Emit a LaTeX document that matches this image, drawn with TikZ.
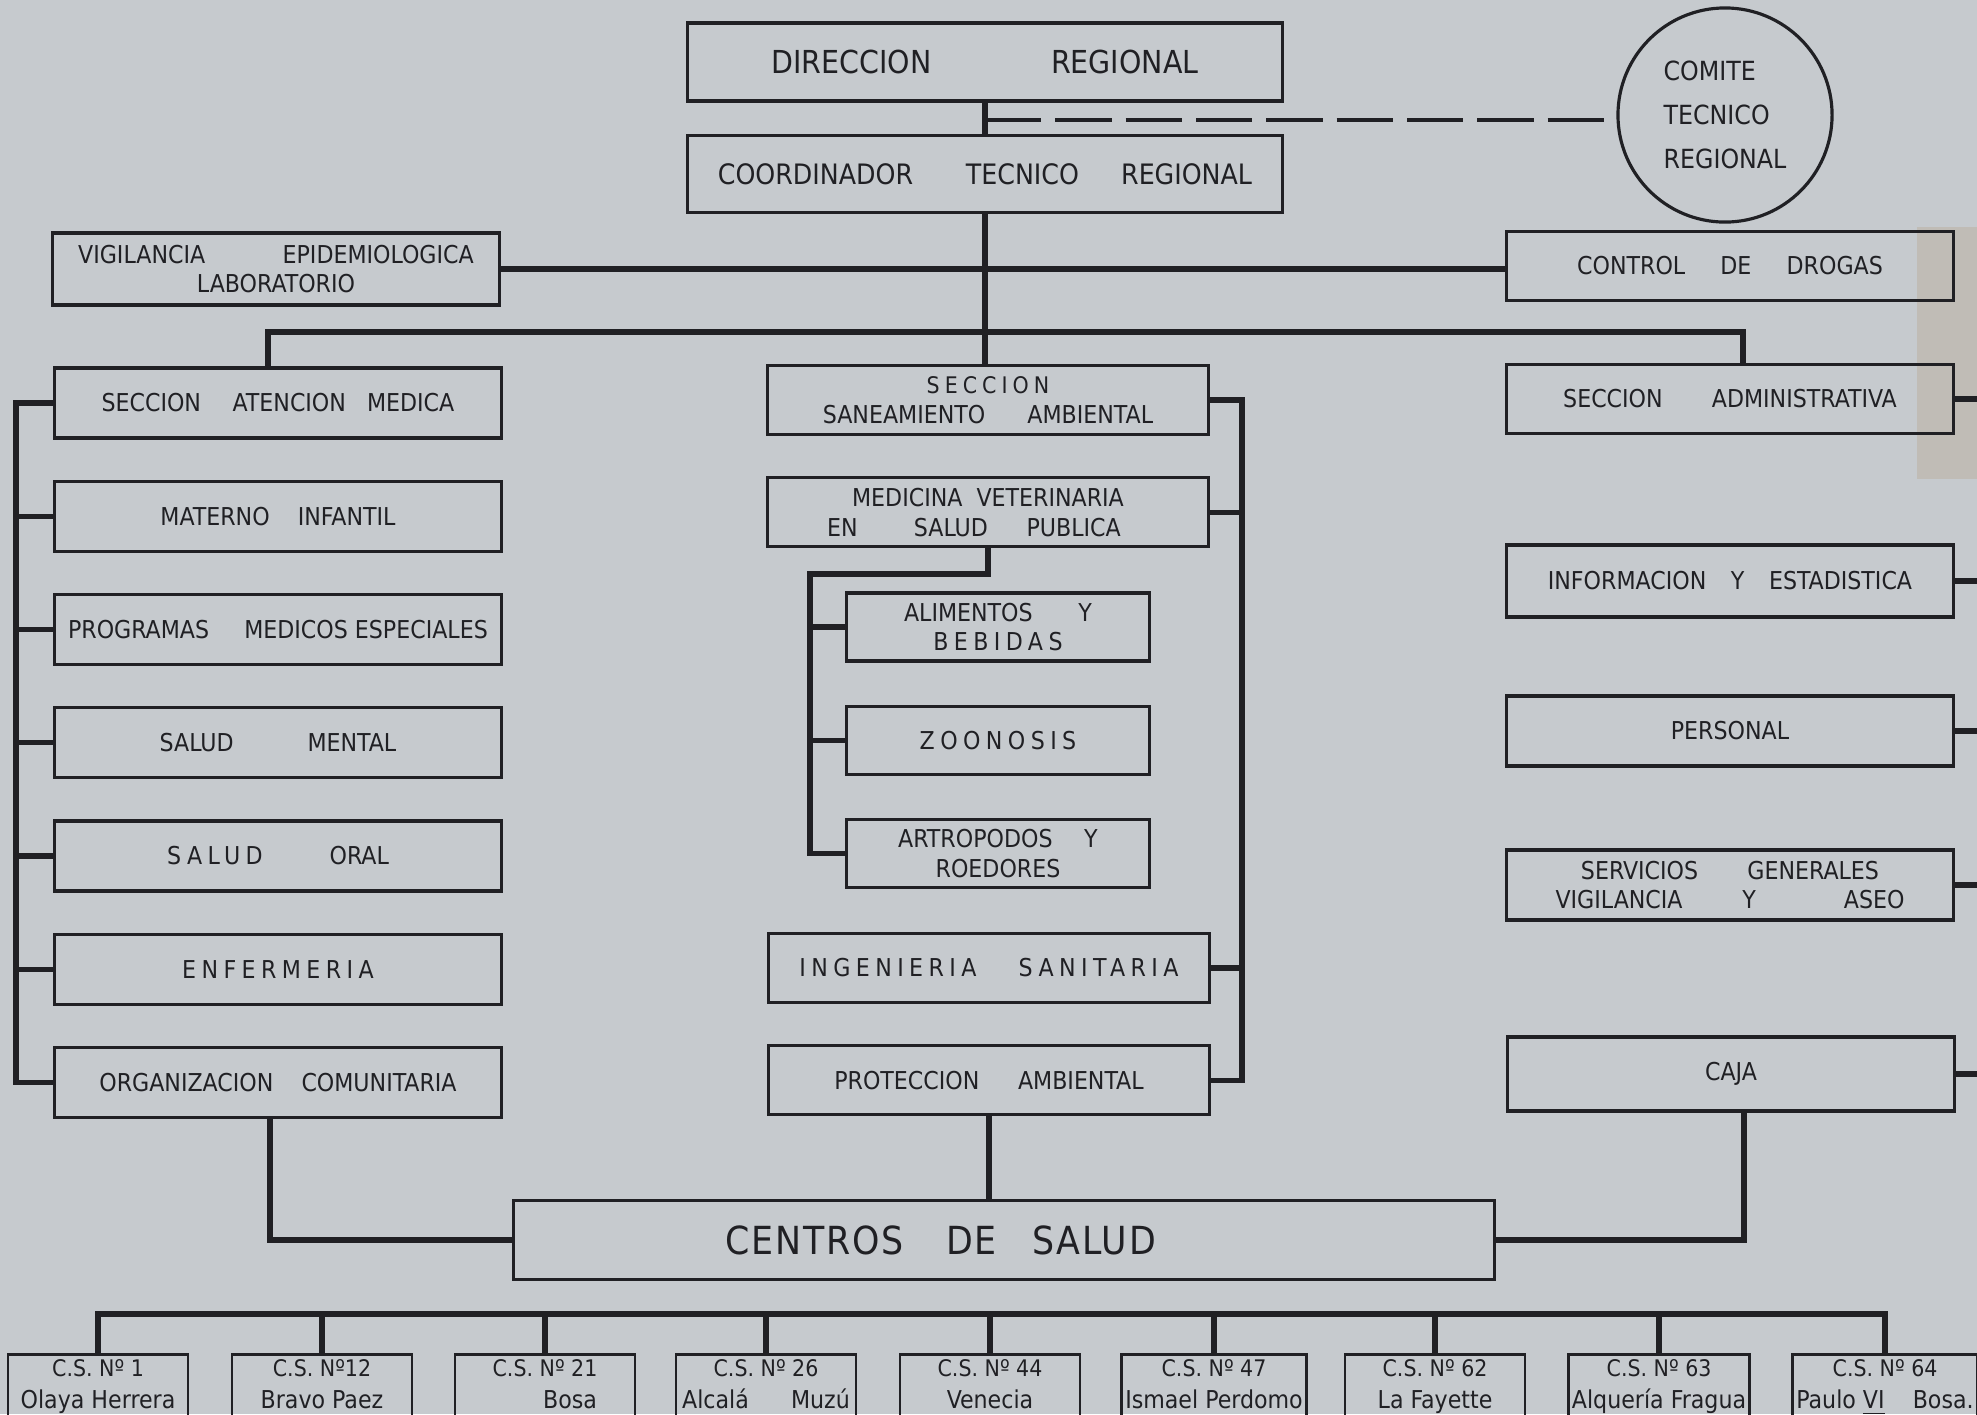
\documentclass[tikz,border=0pt]{standalone}
\usepackage{fontspec}
\setmainfont{DejaVu Sans Condensed}
\newfontfamily\wide[LetterSpace=22]{DejaVu Sans Condensed}
\newfontfamily\stencil[LetterSpace=5]{DejaVu Sans Condensed}
\usetikzlibrary{positioning}
\definecolor{paper}{RGB}{198,202,206}
\definecolor{ink}{RGB}{32,32,36}
\definecolor{tape}{RGB}{188,180,166}
\newcommand{\wgap}[1]{\hspace{#1pt}}

\begin{document}
\begin{tikzpicture}[
  x=0.01cm, y=-0.01cm,
  node distance=4mm,
  box/.style={draw=ink, line width=0.9pt, minimum width=4.46cm, minimum height=7mm,
              inner sep=1pt, align=center, text=ink, font=\fontsize{7}{8.5}\selectfont},
  subbox/.style={box, minimum width=3.03cm, minimum height=6.8mm},
  csbox/.style={draw=ink, line width=0.8pt, anchor=north, minimum width=1.8cm,
                inner xsep=1pt, inner ysep=1.5pt, align=center, text depth=6mm,
                text=ink, font=\fontsize{7}{9}\selectfont},
  link/.style={draw=ink, line width=1.5pt},
  dashline/.style={draw=ink, line width=1pt, dash pattern=on 16pt off 4pt}
]
\fill[paper] (0,0) rectangle (1977,1414);
\useasboundingbox (0,0) rectangle (1977,1414);
\clip (0,0) rectangle (1977,1414);
\fill[tape, opacity=0.6] (1917,227) rectangle (1977,479);

% direccion y comite
\node[box, minimum width=5.94cm, minimum height=7.8mm, font=\fontsize{9}{10}\selectfont] (dir) at (985,62) {DIRECCION\wgap{34}REGIONAL};
\node[box, minimum width=5.94cm, minimum height=7.7mm, font=\fontsize{8}{10}\selectfont] (coord) at (985,174) {COORDINADOR\wgap{15}TECNICO\wgap{12}REGIONAL};
\node[circle, draw=ink, line width=0.9pt, minimum size=2.14cm, align=left, text=ink,
      font=\fontsize{7.5}{12.5}\selectfont] (comite) at (1725,115) {COMITE\\TECNICO\\REGIONAL};
\node[box, minimum height=7.2mm] (vig) at (276,269) {VIGILANCIA\wgap{22}EPIDEMIOLOGICA\\LABORATORIO};
\node[box, minimum height=6.9mm] (drogas) at (1730,266) {CONTROL\wgap{10}DE\wgap{10}DROGAS};

% atencion medica
\node[box] (sam) at (278,403) {SECCION\wgap{9}ATENCION\wgap{6}MEDICA};
\node[box, below=of sam] (mi) {MATERNO\wgap{8}INFANTIL};
\node[box, below=of mi] (pme) {PROGRAMAS\wgap{10}MEDICOS ESPECIALES};
\node[box, below=of pme] (sm) {SALUD\wgap{21}MENTAL};
\node[box, below=of sm] (so) {{\wide SALUD}\wgap{19}ORAL};
\node[box, below=of so] (enf) {{\wide ENFERMERIA}};
\node[box, below=of enf] (oc) {ORGANIZACION\wgap{8}COMUNITARIA};

% saneamiento ambiental
\node[box, minimum width=4.41cm, minimum height=6.9mm] (san) at (988,400) {{\wide\fontsize{6.5}{8.5}\selectfont SECCION}\\SANEAMIENTO\wgap{12}AMBIENTAL};
\node[box, minimum width=4.41cm, minimum height=6.9mm, below=of san] (medvet) {MEDICINA\wgap{4}VETERINARIA\\EN\wgap{16}SALUD\wgap{11}PUBLICA\hspace*{8pt}};
\node[subbox] (alim) at (998,627) {ALIMENTOS\wgap{13}Y\\{\wide BEBIDAS}};
\node[subbox, below=4.2mm of alim] (zoo) {{\wide ZOONOSIS}};
\node[subbox, below=4.2mm of zoo] (art) {ARTROPODOS\wgap{9}Y\\ROEDORES};
\node[box, minimum width=4.40cm, minimum height=6.9mm] (ing) at (989,968) {{\wide INGENIERIA\wgap{12}SANITARIA}};
\node[box, minimum width=4.40cm, minimum height=6.9mm, below=of ing] (prot) {PROTECCION\wgap{11}AMBIENTAL};

% administrativa
\node[box, minimum height=6.9mm] (adm) at (1730,399) {SECCION\wgap{14}ADMINISTRATIVA};
\node[box, minimum height=7.2mm] (info) at (1730,581) {INFORMACION\wgap{7}Y\wgap{7}ESTADISTICA};
\node[box] (pers) at (1730,731) {PERSONAL};
\node[box] (serv) at (1730,885) {SERVICIOS\wgap{14}GENERALES\\VIGILANCIA\wgap{17}Y\wgap{25}ASEO};
\node[box, minimum width=4.47cm, minimum height=7.4mm] (caja) at (1731,1074) {CAJA};

% centros de salud
\node[box, minimum width=9.8cm, minimum height=7.9mm, font=\stencil\fontsize{11}{13}\selectfont] (centros) at (1004,1240) {CENTROS\wgap{12}DE\wgap{10}SALUD\hspace*{36pt}};
\node[csbox] (cs1) at (98,1353) {{\fontsize{6.5}{9}\selectfont C.S.\ Nº 1}\\Olaya Herrera};
\node[csbox] (cs12) at (322,1353) {{\fontsize{6.5}{9}\selectfont C.S.\ Nº12}\\Bravo Paez};
\node[csbox] (cs21) at (545,1353) {{\fontsize{6.5}{9}\selectfont C.S.\ Nº 21}\\\hspace*{5mm}Bosa};
\node[csbox] (cs26) at (766,1353) {{\fontsize{6.5}{9}\selectfont C.S.\ Nº 26}\\Alcalá\wgap{12}Muzú};
\node[csbox] (cs44) at (990,1353) {{\fontsize{6.5}{9}\selectfont C.S.\ Nº 44}\\Venecia};
\node[csbox] (cs47) at (1214,1353) {{\fontsize{6.5}{9}\selectfont C.S.\ Nº 47}\\Ismael Perdomo};
\node[csbox] (cs62) at (1435,1353) {{\fontsize{6.5}{9}\selectfont C.S.\ Nº 62}\\La Fayette};
\node[csbox] (cs63) at (1659,1353) {{\fontsize{6.5}{9}\selectfont C.S.\ Nº 63}\\Alquería Fragua};
\node[csbox] (cs64) at (1885,1353) {{\fontsize{6.5}{9}\selectfont C.S.\ Nº 64}\\Paulo \underline{VI}\wgap{8}Bosa.};

% rails
\coordinate (dashjoin) at (985,120);
\coordinate (sectbus) at (0,332);
\coordinate (lrail) at (16,0);
\coordinate (mrail) at (1242,0);
\coordinate (subrail) at (810,574);
\coordinate (rrail) at (1977,0);
\coordinate (csbus) at (0,1314);

% connectors
\draw[link] (dir.south) -- (coord.north);
\draw[dashline] (dashjoin) -- (dashjoin -| comite.west);
\draw[link] (coord.south) -- (coord.south |- san.north);
\draw[link] (vig.east) -- (vig.east -| drogas.west);
\draw[link] ([xshift=-1mm]sam.north) -- ([xshift=-1mm]sam.north |- sectbus) -- ([xshift=1.3mm]adm.north |- sectbus) -- ([xshift=1.3mm]adm.north);
\draw[link] (sam.west) -- (lrail |- sam.west) -- (lrail |- oc.west) -- (oc.west);
\draw[link] (mi.west) -- (lrail |- mi.west);
\draw[link] (pme.west) -- (lrail |- pme.west);
\draw[link] (sm.west) -- (lrail |- sm.west);
\draw[link] (so.west) -- (lrail |- so.west);
\draw[link] (enf.west) -- (lrail |- enf.west);
\draw[link] (san.east) -- (mrail |- san.east) -- (mrail |- prot.east) -- (prot.east);
\draw[link] (medvet.east) -- (mrail |- medvet.east);
\draw[link] (ing.east) -- (mrail |- ing.east);
\draw[link] (medvet.south) -- (medvet.south |- subrail) -- (subrail) -- (subrail |- art.west) -- (art.west);
\draw[link] (alim.west) -- (subrail |- alim.west);
\draw[link] (zoo.west) -- (subrail |- zoo.west);
\draw[link] (adm.east) -- (rrail |- adm.east);
\draw[link] (info.east) -- (rrail |- info.east);
\draw[link] (pers.east) -- (rrail |- pers.east);
\draw[link] (serv.east) -- (rrail |- serv.east);
\draw[link] (caja.east) -- (rrail |- caja.east);
\draw[link] ([xshift=-0.8mm]oc.south) |- (centros.west);
\draw[link] (prot.south) -- (prot.south |- centros.north);
\draw[link] ([xshift=1.3mm]caja.south) |- (centros.east);
\draw[link] (cs1.north) -- (cs1.north |- csbus) -- (cs64.north |- csbus) -- (cs64.north);
\draw[link] (cs12.north) -- (cs12.north |- csbus);
\draw[link] (cs21.north) -- (cs21.north |- csbus);
\draw[link] (cs26.north) -- (cs26.north |- csbus);
\draw[link] (cs44.north) -- (cs44.north |- csbus);
\draw[link] (cs47.north) -- (cs47.north |- csbus);
\draw[link] (cs62.north) -- (cs62.north |- csbus);
\draw[link] (cs63.north) -- (cs63.north |- csbus);
\end{tikzpicture}
\end{document}
